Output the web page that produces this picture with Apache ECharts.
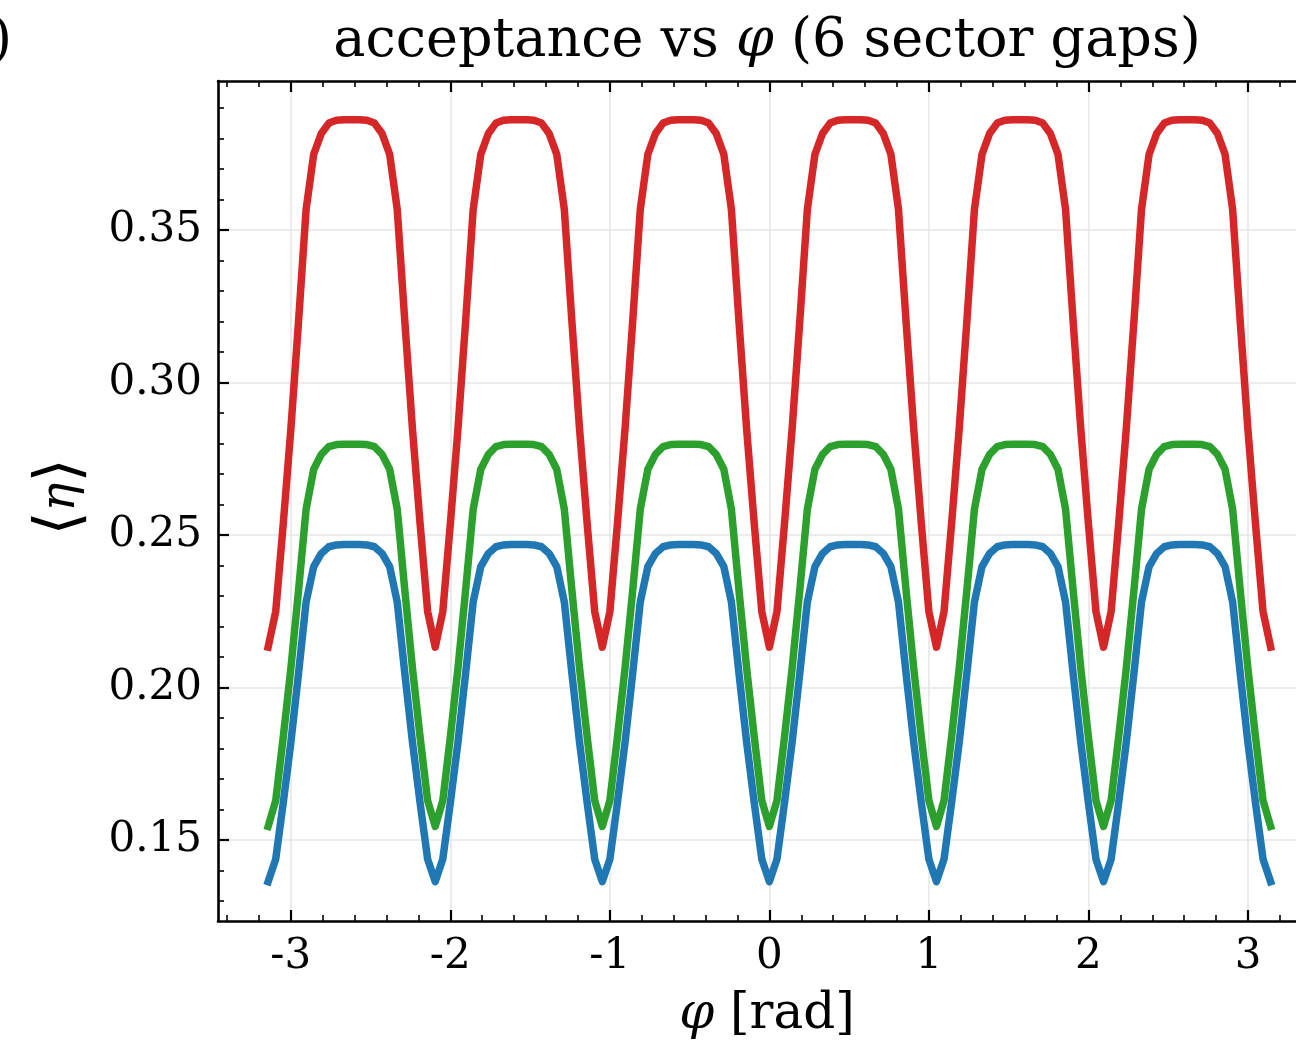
<!DOCTYPE html>
<html><head><meta charset="utf-8">
<script src="https://cdn.jsdelivr.net/npm/echarts@6.0.0/dist/echarts.min.js"></script>
<style>html,body{margin:0;padding:0;background:#fff}#c{width:1296px;height:1042px}</style>
</head><body><div id="c"></div>
<script>
// sampling grid: 133 points from -pi to pi
const N_POINTS = 133;
const phi = Array.from({length: N_POINTS}, (_, i) => -Math.PI + i * (2 * Math.PI) / (N_POINTS - 1));

const etaBlue = [
0.1364,0.1438,0.1624,0.1822,0.2046,0.2281,0.2397,0.2440,0.2462,0.2468,0.2469,0.2469,0.2469,0.2468,0.2462,0.2440,0.2397,0.2281,0.2046,0.1822,0.1624,0.1438,
0.1364,0.1438,0.1624,0.1822,0.2046,0.2281,0.2397,0.2440,0.2462,0.2468,0.2469,0.2469,0.2469,0.2468,0.2462,0.2440,0.2397,0.2281,0.2046,0.1822,0.1624,0.1438,
0.1364,0.1438,0.1624,0.1822,0.2046,0.2281,0.2397,0.2440,0.2462,0.2468,0.2469,0.2469,0.2469,0.2468,0.2462,0.2440,0.2397,0.2281,0.2046,0.1822,0.1624,0.1438,
0.1364,0.1438,0.1624,0.1822,0.2046,0.2281,0.2397,0.2440,0.2462,0.2468,0.2469,0.2469,0.2469,0.2468,0.2462,0.2440,0.2397,0.2281,0.2046,0.1822,0.1624,0.1438,
0.1364,0.1438,0.1624,0.1822,0.2046,0.2281,0.2397,0.2440,0.2462,0.2468,0.2469,0.2469,0.2469,0.2468,0.2462,0.2440,0.2397,0.2281,0.2046,0.1822,0.1624,0.1438,
0.1364,0.1438,0.1624,0.1822,0.2046,0.2281,0.2397,0.2440,0.2462,0.2468,0.2469,0.2469,0.2469,0.2468,0.2462,0.2440,0.2397,0.2281,0.2046,0.1822,0.1624,0.1438,
0.1364];

const etaGreen = [
0.1545,0.1630,0.1840,0.2065,0.2318,0.2585,0.2716,0.2765,0.2790,0.2797,0.2798,0.2798,0.2798,0.2797,0.2790,0.2765,0.2716,0.2585,0.2318,0.2065,0.1840,0.1630,
0.1545,0.1630,0.1840,0.2065,0.2318,0.2585,0.2716,0.2765,0.2790,0.2797,0.2798,0.2798,0.2798,0.2797,0.2790,0.2765,0.2716,0.2585,0.2318,0.2065,0.1840,0.1630,
0.1545,0.1630,0.1840,0.2065,0.2318,0.2585,0.2716,0.2765,0.2790,0.2797,0.2798,0.2798,0.2798,0.2797,0.2790,0.2765,0.2716,0.2585,0.2318,0.2065,0.1840,0.1630,
0.1545,0.1630,0.1840,0.2065,0.2318,0.2585,0.2716,0.2765,0.2790,0.2797,0.2798,0.2798,0.2798,0.2797,0.2790,0.2765,0.2716,0.2585,0.2318,0.2065,0.1840,0.1630,
0.1545,0.1630,0.1840,0.2065,0.2318,0.2585,0.2716,0.2765,0.2790,0.2797,0.2798,0.2798,0.2798,0.2797,0.2790,0.2765,0.2716,0.2585,0.2318,0.2065,0.1840,0.1630,
0.1545,0.1630,0.1840,0.2065,0.2318,0.2585,0.2716,0.2765,0.2790,0.2797,0.2798,0.2798,0.2798,0.2797,0.2790,0.2765,0.2716,0.2585,0.2318,0.2065,0.1840,0.1630,
0.1545];

const etaRed = [
0.2133,0.2250,0.2540,0.2850,0.3200,0.3568,0.3749,0.3817,0.3851,0.3860,0.3862,0.3862,0.3862,0.3860,0.3851,0.3817,0.3749,0.3568,0.3200,0.2850,0.2540,0.2250,
0.2133,0.2250,0.2540,0.2850,0.3200,0.3568,0.3749,0.3817,0.3851,0.3860,0.3862,0.3862,0.3862,0.3860,0.3851,0.3817,0.3749,0.3568,0.3200,0.2850,0.2540,0.2250,
0.2133,0.2250,0.2540,0.2850,0.3200,0.3568,0.3749,0.3817,0.3851,0.3860,0.3862,0.3862,0.3862,0.3860,0.3851,0.3817,0.3749,0.3568,0.3200,0.2850,0.2540,0.2250,
0.2133,0.2250,0.2540,0.2850,0.3200,0.3568,0.3749,0.3817,0.3851,0.3860,0.3862,0.3862,0.3862,0.3860,0.3851,0.3817,0.3749,0.3568,0.3200,0.2850,0.2540,0.2250,
0.2133,0.2250,0.2540,0.2850,0.3200,0.3568,0.3749,0.3817,0.3851,0.3860,0.3862,0.3862,0.3862,0.3860,0.3851,0.3817,0.3749,0.3568,0.3200,0.2850,0.2540,0.2250,
0.2133,0.2250,0.2540,0.2850,0.3200,0.3568,0.3749,0.3817,0.3851,0.3860,0.3862,0.3862,0.3862,0.3860,0.3851,0.3817,0.3749,0.3568,0.3200,0.2850,0.2540,0.2250,
0.2133];

const xMajorTicks = [-3, -2, -1, 0, 1, 2, 3];
const xMinorTicks = [-3.4,-3.2,-2.8,-2.6,-2.4,-2.2,-1.8,-1.6,-1.4,-1.2,-0.8,-0.6,-0.4,-0.2,0.2,0.4,0.6,0.8,1.2,1.4,1.6,1.8,2.2,2.4,2.6,2.8,3.2];
const yMajorTicks = [0.15, 0.20, 0.25, 0.30, 0.35];
const yMinorTicks = [0.13,0.14,0.16,0.17,0.18,0.19,0.21,0.22,0.23,0.24,0.26,0.27,0.28,0.29,0.31,0.32,0.33,0.34,0.36,0.37,0.38,0.39];

const X_MIN = -3.4558, X_MAX = 3.3007;
const Y_MIN = 0.1235, Y_MAX = 0.3989;

const SERIF = '"DejaVu Serif", "Liberation Serif", serif';
const AXIS_COLOR = '#000';

function xAxisDef(pos, ticks, len, width, showLine, showLabel, split) {
  return {
    type: 'value', position: pos, min: X_MIN, max: X_MAX,
    axisLine: {show: showLine, onZero: false, lineStyle: {color: AXIS_COLOR, width: 2.6}},
    axisTick: {show: true, inside: true, length: len, customValues: ticks, lineStyle: {color: AXIS_COLOR, width: width}},
    axisLabel: {show: showLabel, customValues: ticks, margin: 15, color: '#000', fontFamily: SERIF, fontSize: 42,
      formatter: v => String(Math.round(v))},
    splitLine: {show: split, lineStyle: {color: '#e6e6e6', width: 1.6}},
    minorTick: {show: false}
  };
}
function yAxisDef(ticks, len, width, showLine, showLabel, split) {
  return {
    type: 'value', position: 'left', min: Y_MIN, max: Y_MAX,
    axisLine: {show: showLine, onZero: false, lineStyle: {color: AXIS_COLOR, width: 2.6}},
    axisTick: {show: true, inside: true, length: len, customValues: ticks, lineStyle: {color: AXIS_COLOR, width: width}},
    axisLabel: {show: showLabel, customValues: ticks, margin: 16, color: '#000', fontFamily: SERIF, fontSize: 42,
      formatter: v => v.toFixed(2)},
    splitLine: {show: split, lineStyle: {color: '#e6e6e6', width: 1.6}}
  };
}

function lineSeries(name, values, color) {
  return {
    name, type: 'line', xAxisIndex: 0, yAxisIndex: 0,
    data: phi.map((p, i) => [p, values[i]]),
    showSymbol: false, symbol: 'none', smooth: false,
    lineStyle: {color, width: 7.5, cap: 'square', join: 'round'},
    emphasis: {disabled: true}
  };
}

const chart = echarts.init(document.getElementById('c'), null, {renderer: 'canvas'});
chart.setOption({
  animation: false,
  backgroundColor: '#fff',
  grid: {left: 218, top: 81, width: 1078, height: 840, containLabel: false},
  xAxis: [
    xAxisDef('bottom', xMajorTicks, 11, 2.2, true, true, true),
    xAxisDef('bottom', xMinorTicks, 6, 1.6, false, false, false),
    xAxisDef('top', xMajorTicks, 11, 2.2, true, false, false),
    xAxisDef('top', xMinorTicks, 6, 1.6, false, false, false)
  ],
  yAxis: [
    yAxisDef(yMajorTicks, 11, 2.2, true, true, true),
    yAxisDef(yMinorTicks, 6, 1.6, false, false, false)
  ],
  series: [
    lineSeries('blue', etaBlue, '#1f77b4'),
    lineSeries('green', etaGreen, '#2ca02c'),
    lineSeries('red', etaRed, '#d62728')
  ],
  graphic: [
    {type: 'text', x: 767, y: 42, style: {
      text: '{n|acceptance vs }{i|φ}{n| (6 sector gaps)}', align: 'center', verticalAlign: 'middle',
      rich: {n: {fontFamily: SERIF, fontSize: 54, fill: '#000'}, i: {fontFamily: SERIF, fontStyle: 'italic', fontSize: 54, fill: '#000'}}
    }},
    {type: 'text', x: 12, y: 42, style: {text: '(a)', align: 'right', verticalAlign: 'middle', fontFamily: SERIF, fontSize: 54, fill: '#000'}},
    {type: 'text', x: 767, y: 1015, style: {
      text: '{i|φ}{n| [rad]}', align: 'center', verticalAlign: 'middle',
      rich: {n: {fontFamily: SERIF, fontSize: 50, fill: '#000'}, i: {fontFamily: SERIF, fontStyle: 'italic', fontSize: 50, fill: '#000'}}
    }},
    {type: 'text', x: 62, y: 497, rotation: Math.PI / 2, style: {
      text: '{b|⟨}{i|η}{b|⟩}', align: 'center', verticalAlign: 'middle',
      rich: {b: {fontFamily: SERIF, fontSize: 62, fill: '#000'}, i: {fontFamily: SERIF, fontStyle: 'italic', fontSize: 48, fill: '#000'}}
    }}
  ]
});
</script></body></html>
